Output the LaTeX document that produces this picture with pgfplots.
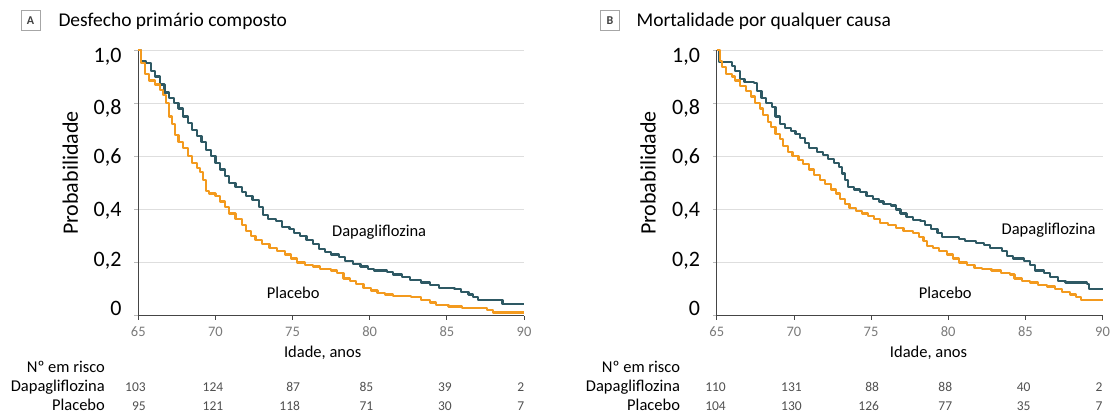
\documentclass[border=0pt]{standalone}
\usepackage{fontspec}
\setmainfont{Carlito}
\usepackage{pgfplots}
\pgfplotsset{compat=1.18}

\definecolor{dapa}{HTML}{2E5964}
\definecolor{plac}{HTML}{F39A1E}
\definecolor{gridc}{HTML}{DEDEDE}
\definecolor{axisc}{HTML}{454545}
\definecolor{tickc}{HTML}{7A7A7A}
\definecolor{numc}{HTML}{505050}

\newcommand{\ylfont}{\fontsize{22bp}{26bp}\selectfont}
\newcommand{\lblfont}{\fontsize{16.5bp}{20bp}\selectfont}
\newcommand{\numfont}{\fontsize{13.5bp}{16bp}\selectfont}
\newcommand{\ttlfont}{\fontsize{19.5bp}{23bp}\selectfont}
\newcommand{\rb}[2]{\raisebox{#1}[\height][\depth]{#2}}

\pgfplotsset{
  km/.style={
    scale only axis, width=385.7bp, height=265.7bp,
    xmin=65, xmax=90, ymin=0, ymax=1,
    axis x line*=bottom, axis y line*=left,
    axis line style={draw=axisc, line width=1.2bp},
    xtick={65,70,75,80,85,90},
    ytick={0,0.2,0.4,0.6,0.8,1},
    yticklabels={{\rb{7.7bp}{0}},{\rb{1.7bp}{0,2}},{\rb{-1bp}{0,4}},{\rb{-1.3bp}{0,6}},{\rb{-5.3bp}{0,8}},{\rb{-6.7bp}{1,0}}},
    ymajorgrids, grid style={draw=gridc, line width=0.9bp},
    tick align=outside, major tick length=4bp,
    xtick style={draw=axisc, line width=0.8bp},
    ytick style={draw=gray!55, line width=0.6bp},
    /pgf/number format/assume math mode=true,
    xticklabel style={font=\fontsize{14.5bp}{16bp}\selectfont, text=tickc, anchor=center, yshift=-12bp},
    yticklabel style={font=\ylfont, anchor=east, inner sep=0pt, xshift=-12.6bp},
    xlabel={Idade, anos},
    ylabel={Probabilidade},
    ylabel style={font=\ylfont, anchor=center},
    clip=false,
  },
  dapaline/.style={const plot, draw=dapa, line width=2.2bp, line join=round, no marks},
  placline/.style={const plot, draw=plac, line width=2.2bp, line join=round, no marks},
}

\begin{document}
\begin{tikzpicture}
\path[use as bounding box] (0,0) rectangle (1116bp,419bp);

% Panel titles
\node[draw=gray!70, line width=1bp, minimum width=19bp, minimum height=20bp, inner sep=0pt,
      font=\fontsize{12bp}{14bp}\selectfont\bfseries, text=black!75] at (30.5bp,398.2bp) {A};
\node[anchor=base west, inner sep=0pt, font=\ttlfont] at (58.3bp,392.3bp) {Desfecho primário composto};
\node[draw=gray!70, line width=1bp, minimum width=19bp, minimum height=20bp, inner sep=0pt,
      font=\fontsize{12bp}{14bp}\selectfont\bfseries, text=black!75] at (610bp,398.2bp) {B};
\node[anchor=base west, inner sep=0pt, font=\ttlfont] at (636.4bp,392.3bp) {Mortalidade por qualquer causa};

% ---------- A: composite primary outcome ----------
\begin{axis}[km, at={(138.3bp,103.3bp)}, anchor=south west,
  xlabel style={font=\lblfont, at={(axis description cs:0.478,-0.14)}, anchor=center},
  ylabel style={at={(axis description cs:-0.176,0.537)}}]
\addplot[dapaline] table {
65 1.0
65.15 0.96
65.5 0.95
65.8 0.92
66.1 0.90
66.4 0.87
66.7 0.84
67.0 0.82
67.3 0.80
67.6 0.78
67.9 0.75
68.2 0.725
68.5 0.70
68.8 0.675
69.1 0.655
69.4 0.625
69.7 0.60
70.0 0.575
70.3 0.55
70.6 0.525
70.9 0.50
71.3 0.485
71.7 0.465
72.0 0.45
72.4 0.435
72.8 0.41
73.1 0.38
73.4 0.365
73.9 0.355
74.3 0.335
74.8 0.325
75.1 0.31
75.5 0.30
75.9 0.285
76.3 0.27
76.7 0.25
77.1 0.24
77.5 0.23
78.0 0.22
78.4 0.205
78.9 0.195
79.4 0.185
79.9 0.175
80.3 0.17
81.1 0.165
81.5 0.155
82.1 0.145
82.6 0.135
83.3 0.125
83.9 0.115
84.5 0.105
85.5 0.10
85.9 0.09
86.4 0.08
86.7 0.07
87.0 0.06
88.6 0.045
90 0.045
};
\addplot[placline] table {
65 1.0
65.2 0.95
65.45 0.91
65.7 0.885
66.1 0.87
66.4 0.85
66.6 0.83
66.8 0.80
67.0 0.75
67.2 0.72
67.4 0.68
67.6 0.655
67.9 0.63
68.2 0.60
68.5 0.575
68.8 0.555
69.0 0.54
69.2 0.51
69.4 0.47
69.6 0.46
70.0 0.45
70.3 0.43
70.6 0.41
70.9 0.385
71.3 0.365
71.7 0.34
72.0 0.32
72.3 0.30
72.6 0.285
73.0 0.27
73.5 0.255
74.0 0.245
74.5 0.23
74.9 0.215
75.3 0.20
75.8 0.19
76.3 0.185
76.8 0.175
77.5 0.17
77.9 0.16
78.3 0.14
78.7 0.13
79.1 0.12
79.6 0.105
80.1 0.095
80.5 0.085
81.0 0.08
81.5 0.075
82.7 0.07
83.3 0.06
83.9 0.05
84.3 0.04
85.1 0.035
86.0 0.03
87.6 0.02
88.0 0.012
90 0.012
};
\node[font=\lblfont] at (axis cs:80.61,0.316) {Dapagliflozina};
\node[font=\lblfont] at (axis cs:75.04,0.087) {Placebo};
% numbers at risk
\node[anchor=base east, font=\lblfont] at (axis cs:63.06,-0.212) {Nº em risco};
\node[anchor=base east, font=\lblfont] at (axis cs:63.06,-0.287) {Dapagliflozina};
\node[anchor=base east, font=\lblfont] at (axis cs:63.06,-0.355) {Placebo};
\node[anchor=base east, font=\numfont, text=numc] at (axis cs:65.71,-0.287) {103};
\node[anchor=base east, font=\numfont, text=numc] at (axis cs:70.73,-0.287) {124};
\node[anchor=base east, font=\numfont, text=numc] at (axis cs:75.71,-0.287) {87};
\node[anchor=base east, font=\numfont, text=numc] at (axis cs:80.46,-0.287) {85};
\node[anchor=base east, font=\numfont, text=numc] at (axis cs:85.55,-0.287) {39};
\node[anchor=base east, font=\numfont, text=numc] at (axis cs:90.25,-0.287) {2};
\node[anchor=base east, font=\numfont, text=numc] at (axis cs:65.71,-0.355) {95};
\node[anchor=base east, font=\numfont, text=numc] at (axis cs:70.73,-0.355) {121};
\node[anchor=base east, font=\numfont, text=numc] at (axis cs:75.71,-0.355) {118};
\node[anchor=base east, font=\numfont, text=numc] at (axis cs:80.46,-0.355) {71};
\node[anchor=base east, font=\numfont, text=numc] at (axis cs:85.55,-0.355) {30};
\node[anchor=base east, font=\numfont, text=numc] at (axis cs:90.25,-0.355) {7};
\end{axis}

% ---------- B: all-cause mortality ----------
\begin{axis}[km, at={(716.8bp,103.3bp)}, anchor=south west,
  xlabel style={font=\lblfont, at={(axis description cs:0.549,-0.14)}, anchor=center},
  ylabel style={at={(axis description cs:-0.178,0.537)}}]
\addplot[dapaline] table {
65 1.0
65.15 0.955
66.0 0.94
66.2 0.92
66.5 0.89
66.8 0.88
67.4 0.875
67.6 0.845
67.9 0.82
68.2 0.80
68.6 0.785
68.8 0.75
69.1 0.72
69.4 0.705
69.8 0.695
70.1 0.685
70.4 0.67
70.7 0.65
71.0 0.63
71.5 0.615
71.9 0.605
72.2 0.59
72.6 0.575
72.9 0.56
73.1 0.535
73.3 0.51
73.5 0.485
73.9 0.475
74.3 0.465
74.7 0.45
75.1 0.44
75.5 0.43
75.8 0.42
76.3 0.415
76.6 0.40
76.9 0.385
77.3 0.37
77.7 0.36
78.2 0.355
78.5 0.34
78.9 0.325
79.3 0.31
79.6 0.295
80.7 0.29
81.1 0.28
81.8 0.275
82.3 0.265
82.7 0.255
83.5 0.245
83.8 0.225
84.2 0.215
84.9 0.205
85.3 0.19
85.6 0.17
86.2 0.16
86.6 0.145
87.1 0.13
87.6 0.125
89.0 0.12
89.1 0.10
90 0.10
};
\addplot[placline] table {
65 1.0
65.2 0.96
65.35 0.935
65.6 0.91
66.0 0.90
66.2 0.885
66.5 0.865
66.9 0.845
67.2 0.825
67.5 0.80
67.8 0.78
68.0 0.755
68.3 0.73
68.5 0.71
68.8 0.685
69.1 0.665
69.3 0.64
69.6 0.615
69.9 0.60
70.3 0.585
70.6 0.57
71.0 0.55
71.3 0.53
71.7 0.51
72.0 0.495
72.4 0.475
72.7 0.46
73.0 0.44
73.3 0.42
73.6 0.405
74.0 0.395
74.4 0.385
74.8 0.375
75.2 0.365
75.6 0.35
76.1 0.34
76.6 0.33
77.1 0.32
77.7 0.31
78.1 0.295
78.4 0.28
78.6 0.262
79.0 0.255
79.4 0.245
79.9 0.23
80.3 0.215
80.7 0.20
81.2 0.19
81.7 0.18
82.2 0.175
82.8 0.17
83.4 0.16
84.0 0.155
84.3 0.14
84.8 0.13
85.3 0.125
85.8 0.115
86.4 0.11
86.9 0.10
87.4 0.09
87.9 0.08
88.3 0.07
88.6 0.058
90 0.058
};
\node[font=\lblfont] at (axis cs:86.51,0.322) {Dapagliflozina};
\node[font=\lblfont] at (axis cs:79.81,0.087) {Placebo};
% numbers at risk
\node[anchor=base east, font=\lblfont] at (axis cs:62.84,-0.212) {Nº em risco};
\node[anchor=base east, font=\lblfont] at (axis cs:62.84,-0.287) {Dapagliflozina};
\node[anchor=base east, font=\lblfont] at (axis cs:62.84,-0.355) {Placebo};
\node[anchor=base east, font=\numfont, text=numc] at (axis cs:65.81,-0.287) {110};
\node[anchor=base east, font=\numfont, text=numc] at (axis cs:70.73,-0.287) {131};
\node[anchor=base east, font=\numfont, text=numc] at (axis cs:75.74,-0.287) {88};
\node[anchor=base east, font=\numfont, text=numc] at (axis cs:80.48,-0.287) {88};
\node[anchor=base east, font=\numfont, text=numc] at (axis cs:85.56,-0.287) {40};
\node[anchor=base east, font=\numfont, text=numc] at (axis cs:90.23,-0.287) {2};
\node[anchor=base east, font=\numfont, text=numc] at (axis cs:65.81,-0.355) {104};
\node[anchor=base east, font=\numfont, text=numc] at (axis cs:70.73,-0.355) {130};
\node[anchor=base east, font=\numfont, text=numc] at (axis cs:75.74,-0.355) {126};
\node[anchor=base east, font=\numfont, text=numc] at (axis cs:80.48,-0.355) {77};
\node[anchor=base east, font=\numfont, text=numc] at (axis cs:85.56,-0.355) {35};
\node[anchor=base east, font=\numfont, text=numc] at (axis cs:90.23,-0.355) {7};
\end{axis}
\end{tikzpicture}
\end{document}
